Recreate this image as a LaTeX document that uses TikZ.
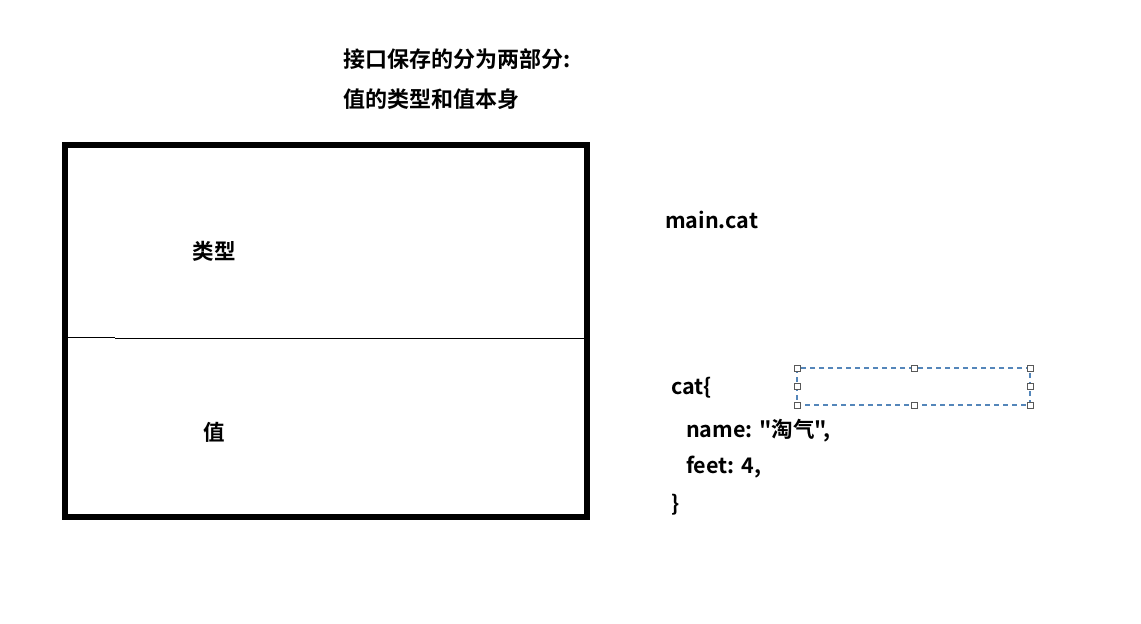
\documentclass[tikz,border=0pt]{standalone}
\usepackage{fontspec}
\setmainfont{Noto Sans CJK SC}[BoldFont={* Bold}]
\newfontfamily\cjkb{Noto Sans CJK SC Bold}
\definecolor{selblue}{RGB}{84,134,186}
\begin{document}
\begin{tikzpicture}[x=1pt,y=-1pt,
  txt/.style={inner sep=0pt,anchor=west,font=\cjkb\fontsize{21.5}{25}\selectfont},
  ttl/.style={txt,font=\cjkb\fontsize{22}{26}\selectfont},
  handle/.style={draw=gray!70!black,fill=white,line width=0.9pt,minimum size=6pt,inner sep=0pt},
  selbox/.style={draw=selblue,line width=1.1pt,dash pattern=on 5pt off 4pt}]
\useasboundingbox (0,0) rectangle (1141,624);
\fill[white] (0,0) rectangle (1141,624);
% main box
\draw[line width=6pt] (65,145) rectangle (587,517);
\coordinate (dl) at (65,337.5);
\coordinate (dm) at (115,337.5);
\coordinate (dm2) at (115,338.5);
\coordinate (dr) at (584,338.5);
\draw[line width=1.3pt] (dl) -- (dm);
\draw[line width=1.3pt] (dm2) -- (dr);
\node[txt,anchor=center] (type) at (214,251) {类型};
\node[txt,anchor=center] (val) at (214,432) {值};
% title
\node[ttl] (t1) at (343,59) {接口保存的分为两部分:};
\node[ttl] (t2) at (343,99) {值的类型和值本身};
% right side
\node[txt] (mc) at (665,220) {main.cat};
\node[txt] (c1) at (671,388) {cat\{};
\node[txt] (c2) at (686,431) {name: "淘气",};
\node[txt] (c3) at (686,467) {feet: 4,};
\node[txt] (c4) at (671,505) {\}};
% selection box
\coordinate (s1) at (797,368);
\coordinate (s2) at (1030,405);
\draw[selbox] (s1) rectangle (s2);
\foreach \p/\q in {797/368,914/368,1030/368,797/386,1030/386,797/405,914/405,1030/405}
  \node[handle] at (\p,\q) {};
\end{tikzpicture}
\end{document}
